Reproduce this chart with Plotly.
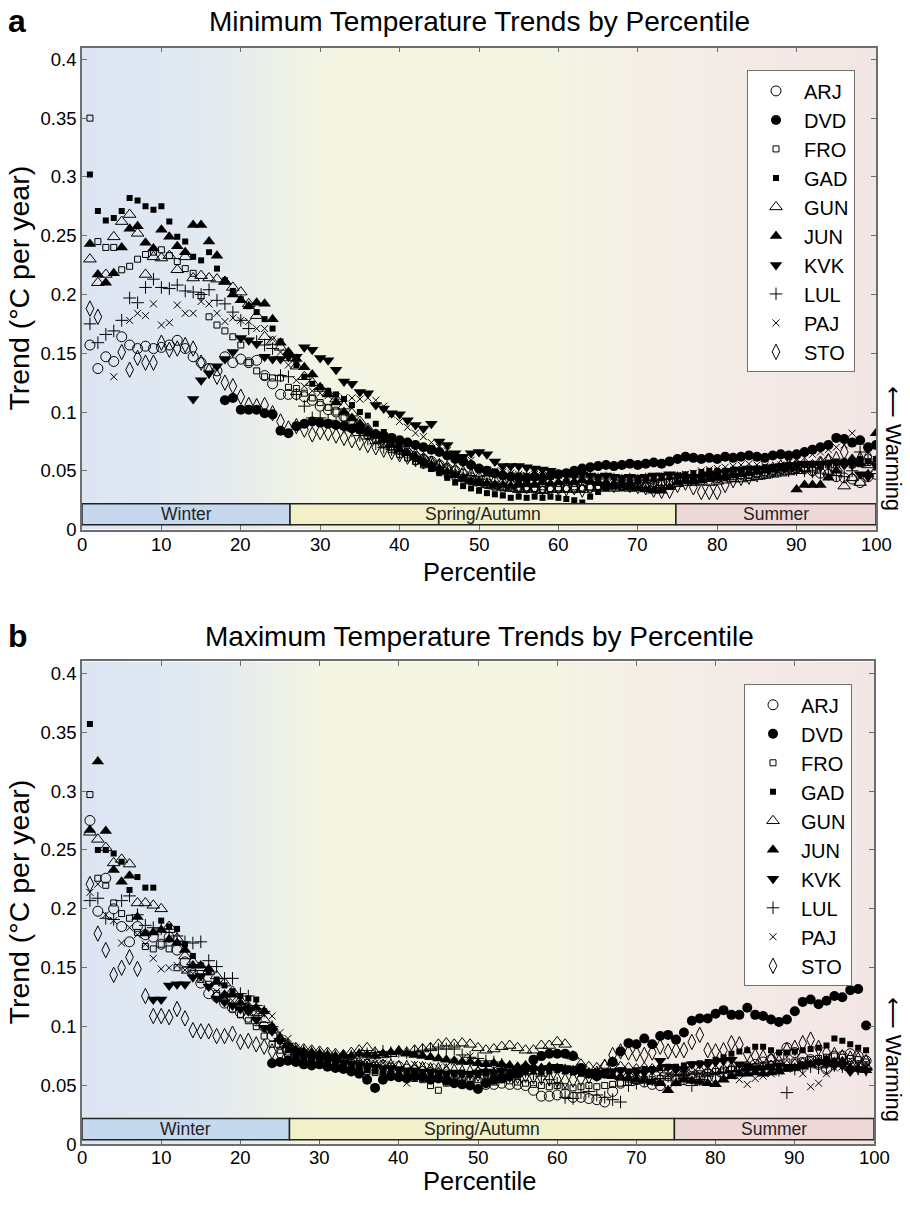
import plotly.graph_objects as go

N = None
pct = list(range(1, 101))
stations = ["ARJ", "DVD", "FRO", "GAD", "GUN", "JUN", "KVK", "LUL", "PAJ", "STO"]

# --- minimum temperature trends (panel a), one value per percentile 1..100
tmin_arj = [
    0.157, 0.137, 0.147, 0.143, 0.164, 0.157, 0.154, 0.156, 0.154, 0.155,
    0.157, 0.161, 0.154, 0.147, 0.142, 0.137, 0.135, 0.147, 0.142, 0.145,
    0.142, 0.144, 0.131, 0.124, 0.115, 0.115, 0.115, 0.113, 0.110, 0.105,
    0.102, 0.100, 0.096, 0.090, 0.086, 0.081, 0.078, 0.075, 0.071, 0.068,
    0.065, 0.062, 0.060, 0.058, 0.055, 0.052, 0.050, 0.047, 0.044, 0.040,
    0.039, 0.037, 0.036, 0.038, 0.035, 0.037, 0.036, 0.038, 0.036, 0.037,
    0.036, 0.038, 0.037, 0.036, 0.038, 0.037, 0.039, 0.038, 0.037, 0.038,
    0.039, 0.038, 0.040, 0.041, 0.042, 0.043, 0.042, 0.044, 0.045, 0.044,
    0.046, 0.045, 0.047, 0.048, 0.049, 0.050, 0.051, 0.052, 0.053, 0.054,
    0.052, 0.050, 0.048, 0.047, 0.045, 0.044, 0.043, 0.040, 0.045, 0.047]
tmin_dvd = [
    N, N, N, N, N, N, N, N, N, N,
    N, N, N, N, N, N, N, 0.110, 0.112, 0.102,
    0.102, 0.102, 0.099, 0.098, 0.084, 0.082, 0.088, 0.090, 0.092, 0.091,
    0.090, 0.089, 0.088, 0.086, 0.085, 0.083, 0.081, 0.080, 0.078, 0.076,
    0.074, 0.072, 0.070, 0.068, 0.066, 0.063, 0.060, 0.058, 0.055, 0.052,
    0.050, 0.048, 0.046, 0.045, 0.044, 0.044, 0.045, 0.044, 0.046, 0.047,
    0.048, 0.050, 0.052, 0.053, 0.054, 0.055, 0.054, 0.055, 0.056, 0.055,
    0.056, 0.057, 0.056, 0.058, 0.060, 0.062, 0.061, 0.060, 0.061, 0.060,
    0.062, 0.061, 0.062, 0.063, 0.062, 0.061, 0.063, 0.064, 0.063, 0.064,
    0.066, 0.068, 0.070, 0.072, 0.078, 0.077, 0.074, 0.076, 0.070, 0.072]
tmin_fro = [
    0.350, 0.245, 0.240, 0.240, 0.221, 0.224, 0.230, 0.234, 0.236, 0.238,
    0.233, 0.228, 0.222, 0.218, 0.199, 0.181, 0.174, 0.169, 0.164, 0.157,
    0.142, 0.135, 0.130, 0.129, 0.129, 0.121, 0.120, 0.116, 0.112, 0.108,
    0.104, 0.100, 0.095, 0.090, 0.085, 0.080, 0.076, 0.072, 0.068, 0.064,
    0.061, 0.058, 0.055, 0.052, 0.050, 0.047, 0.045, 0.043, 0.041, 0.040,
    0.038, 0.037, 0.036, 0.035, 0.035, 0.034, 0.035, 0.034, 0.035, 0.034,
    0.035, 0.034, 0.035, 0.036, 0.035, 0.036, 0.037, 0.036, 0.037, 0.038,
    0.038, 0.039, 0.040, 0.040, 0.041, 0.042, 0.042, 0.043, 0.044, 0.044,
    0.045, 0.045, 0.046, 0.046, 0.047, 0.046, 0.048, 0.049, 0.050, 0.051,
    0.052, 0.053, 0.054, 0.055, 0.055, 0.056, 0.055, 0.056, 0.057, 0.056]
tmin_gad = [
    0.302, 0.271, 0.263, 0.265, 0.271, 0.282, 0.280, 0.275, 0.272, 0.275,
    0.262, 0.249, 0.245, 0.232, 0.229, 0.236, 0.222, 0.212, 0.203, 0.196,
    0.190, 0.185, 0.179, 0.171, 0.160, 0.150, 0.140, 0.130, 0.124, 0.121,
    0.118, 0.115, 0.111, 0.106, 0.100, 0.097, 0.090, 0.083, 0.077, 0.071,
    0.065, 0.060, 0.056, 0.052, 0.048, 0.044, 0.040, 0.037, 0.035, 0.033,
    0.031, 0.030, 0.029, 0.027, 0.028, 0.027, 0.028, 0.027, 0.028, 0.027,
    0.026, 0.025, 0.023, 0.028, 0.032, 0.035, 0.037, 0.039, 0.040, 0.041,
    0.042, 0.043, 0.044, 0.045, 0.046, 0.047, 0.048, 0.049, 0.050, 0.050,
    0.050, 0.051, 0.051, 0.052, 0.052, 0.053, 0.053, 0.054, 0.054, 0.055,
    0.055, 0.056, 0.056, 0.057, 0.058, 0.058, 0.059, 0.060, 0.058, 0.060]
tmin_gun = [
    0.230, 0.210, 0.217, 0.249, 0.262, 0.268, 0.252, 0.217, 0.232, 0.231,
    0.233, 0.221, 0.232, 0.214, 0.216, 0.214, 0.213, 0.211, 0.206, 0.202,
    0.192, 0.182, 0.164, 0.160, 0.155, 0.146, 0.139, 0.130, 0.125, 0.120,
    0.116, 0.111, 0.105, 0.099, 0.092, 0.086, 0.081, 0.077, 0.073, 0.070,
    0.067, 0.064, 0.061, 0.058, 0.055, 0.051, 0.047, 0.044, 0.042, 0.040,
    0.038, 0.037, 0.036, 0.035, 0.034, 0.035, 0.034, 0.033, 0.034, 0.035,
    0.034, 0.035, 0.034, 0.036, 0.035, 0.036, 0.035, 0.036, 0.035, 0.036,
    0.036, 0.037, 0.038, 0.038, 0.039, 0.040, 0.040, 0.041, 0.040, 0.041,
    0.042, 0.043, 0.043, 0.044, 0.045, 0.046, 0.047, 0.048, 0.049, 0.050,
    0.052, 0.055, 0.058, 0.060, 0.052, 0.037, 0.044, 0.040, 0.055, 0.050]
tmin_jun = [
    0.243, 0.217, 0.210, 0.218, 0.240, 0.256, 0.258, 0.244, 0.239, 0.255,
    0.249, 0.241, 0.236, 0.259, 0.259, 0.245, 0.233, 0.211, 0.200, 0.195,
    0.190, 0.193, 0.192, 0.179, 0.159, 0.151, 0.145, 0.138, 0.132, 0.121,
    0.115, 0.108, 0.100, 0.095, 0.090, 0.085, 0.080, 0.076, 0.072, 0.068,
    0.065, 0.062, 0.058, 0.055, 0.052, 0.049, 0.046, 0.043, 0.041, 0.040,
    0.039, 0.038, 0.038, 0.037, 0.038, 0.039, 0.038, 0.040, 0.039, 0.040,
    0.041, 0.040, 0.042, 0.041, 0.040, 0.039, 0.038, 0.037, 0.036, 0.035,
    0.034, 0.033, 0.033, 0.036, 0.040, 0.042, 0.041, 0.042, 0.043, 0.044,
    0.045, 0.046, 0.047, 0.048, 0.049, 0.050, 0.051, 0.052, 0.053, 0.034,
    0.038, 0.038, 0.038, 0.044, 0.050, 0.057, 0.060, 0.056, 0.047, 0.082]
tmin_kvk = [
    N, N, N, N, N, N, N, N, N, N,
    N, N, N, 0.111, 0.127, 0.133, 0.139, 0.145, 0.151, 0.163,
    0.161, 0.158, 0.147, 0.145, 0.145, 0.147, 0.147, 0.155, 0.153, 0.146,
    0.144, 0.136, 0.126, 0.124, 0.117, 0.116, 0.106, 0.103, 0.099, 0.098,
    0.093, 0.089, 0.086, 0.090, 0.075, 0.072, 0.065, 0.062, 0.065, 0.066,
    0.064, 0.058, 0.054, 0.054, 0.054, 0.053, 0.052, 0.051, 0.050, 0.048,
    0.047, 0.046, 0.047, 0.046, 0.045, 0.046, 0.045, 0.044, 0.045, 0.044,
    0.045, 0.046, 0.046, 0.047, 0.046, 0.045, 0.044, 0.045, 0.047, 0.048,
    0.049, 0.050, 0.051, 0.052, 0.051, 0.052, 0.053, 0.054, 0.055, 0.055,
    0.056, 0.056, 0.055, 0.056, 0.057, 0.055, 0.056, 0.047, 0.045, 0.055]
tmin_lul = [
    0.175, 0.159, 0.166, 0.169, 0.178, 0.197, 0.193, 0.206, 0.213, 0.206,
    0.205, 0.208, 0.203, 0.202, 0.200, 0.204, 0.195, 0.192, 0.185, 0.178,
    0.171, 0.160, 0.157, 0.154, 0.131, 0.130, 0.115, 0.105, 0.095, 0.095,
    0.093, 0.090, 0.087, 0.084, 0.080, 0.077, 0.073, 0.070, 0.068, 0.065,
    0.063, 0.060, 0.058, 0.055, 0.053, 0.050, 0.049, 0.047, 0.046, 0.045,
    0.046, 0.045, 0.047, 0.046, 0.048, 0.046, 0.045, 0.046, 0.045, 0.046,
    0.045, 0.044, 0.045, 0.044, 0.043, 0.044, 0.043, 0.042, 0.043, 0.042,
    0.043, 0.042, 0.043, 0.043, 0.044, 0.044, 0.045, 0.045, 0.046, 0.045,
    0.046, 0.047, 0.047, 0.048, 0.048, 0.049, 0.049, 0.050, 0.050, 0.051,
    0.050, 0.049, 0.048, 0.047, 0.046, 0.045, 0.050, 0.066, 0.060, 0.058]
tmin_paj = [
    N, N, N, 0.130, N, 0.178, 0.184, 0.182, 0.192, 0.174,
    0.176, 0.191, 0.184, 0.184, 0.194, 0.192, 0.184, 0.177, 0.180, 0.178,
    0.177, 0.171, 0.171, 0.162, 0.151, 0.140, 0.127, 0.122, 0.118, 0.116,
    0.114, 0.113, 0.112, 0.112, 0.111, 0.112, 0.110, 0.105, 0.098, 0.092,
    0.087, 0.082, 0.079, 0.074, 0.070, 0.067, 0.064, 0.061, 0.059, 0.051,
    0.051, 0.050, 0.049, 0.048, 0.047, 0.046, 0.047, 0.046, 0.045, 0.046,
    0.045, 0.044, 0.045, 0.044, 0.045, 0.043, 0.042, 0.041, 0.042, 0.041,
    0.042, 0.043, 0.044, 0.045, 0.046, 0.047, 0.048, 0.050, 0.051, 0.052,
    0.053, 0.054, 0.055, 0.056, 0.055, 0.054, 0.053, 0.055, 0.057, 0.059,
    0.061, 0.064, 0.066, 0.068, 0.070, 0.072, 0.082, 0.075, 0.065, 0.053]
tmin_sto = [
    0.188, 0.181, N, N, 0.151, 0.136, 0.146, 0.142, 0.142, 0.159,
    0.153, 0.154, 0.157, 0.154, 0.142, 0.135, 0.130, 0.125, 0.122, 0.113,
    0.106, 0.105, 0.106, 0.099, 0.092, 0.086, 0.088, 0.085, 0.081, 0.083,
    0.082, 0.080, 0.078, 0.076, 0.074, 0.072, 0.070, 0.068, 0.066, 0.064,
    0.062, 0.060, 0.058, 0.056, 0.054, 0.052, 0.050, 0.048, 0.046, 0.044,
    0.042, 0.041, 0.040, 0.039, 0.038, 0.037, 0.036, 0.036, 0.035, 0.036,
    0.035, 0.036, 0.034, 0.036, 0.038, 0.039, 0.038, 0.039, 0.038, 0.037,
    0.036, 0.034, 0.033, 0.033, 0.038, 0.040, 0.036, 0.032, 0.032, 0.032,
    0.038, 0.042, 0.044, 0.045, 0.047, 0.049, 0.051, 0.053, 0.054, 0.055,
    0.053, 0.051, 0.055, 0.058, 0.060, 0.066, 0.057, 0.060, 0.062, N]

# --- maximum temperature trends (panel b)
tmax_arj = [
    0.275, 0.198, 0.226, 0.200, 0.185, 0.172, 0.185, 0.178, 0.176, 0.170,
    0.176, 0.165, 0.155, 0.145, 0.137, 0.128, 0.125, 0.120, 0.116, 0.112,
    0.108, 0.105, 0.100, 0.092, 0.085, 0.080, 0.076, 0.074, 0.072, 0.071,
    0.070, 0.069, 0.070, 0.068, 0.067, 0.068, 0.066, 0.067, 0.065, 0.066,
    0.064, 0.063, 0.062, 0.061, 0.060, 0.059, 0.058, 0.057, 0.055, 0.053,
    0.051, 0.051, 0.052, 0.051, 0.051, 0.050, 0.046, 0.041, 0.041, 0.042,
    0.043, 0.040, 0.040, 0.039, 0.038, 0.036, 0.045, 0.052, 0.057, 0.055,
    0.053, 0.051, 0.050, 0.052, 0.054, 0.055, 0.056, 0.056, 0.057, 0.057,
    0.060, 0.062, 0.064, 0.066, 0.068, 0.070, 0.072, 0.075, 0.082, 0.078,
    0.074, 0.072, 0.068, 0.064, 0.075, 0.075, 0.077, 0.075, 0.071, N]
tmax_dvd = [
    N, N, N, N, N, N, N, N, N, N,
    N, N, N, N, N, N, N, N, N, N,
    N, N, N, 0.069, 0.070, 0.071, 0.070, 0.068, 0.067, 0.068,
    0.066, 0.065, 0.064, 0.062, 0.060, 0.055, 0.048, 0.055, 0.058, 0.057,
    0.056, 0.058, 0.057, 0.055, 0.056, 0.054, 0.052, 0.051, 0.050, 0.047,
    0.052, 0.055, 0.056, 0.058, 0.060, 0.065, 0.072, 0.075, 0.077, 0.077,
    0.077, 0.075, 0.065, 0.060, 0.058, 0.060, 0.070, 0.079, 0.086, 0.085,
    0.090, 0.085, 0.092, 0.093, 0.089, 0.095, 0.105, 0.107, 0.107, 0.111,
    0.114, 0.110, 0.110, 0.116, 0.110, 0.109, 0.106, 0.104, 0.106, 0.113,
    0.121, 0.123, 0.119, 0.122, 0.126, 0.125, 0.131, 0.132, 0.101, N]
tmax_fro = [
    0.297, 0.226, 0.220, 0.205, 0.196, 0.192, 0.180, 0.168, 0.166, 0.170,
    0.166, 0.150, 0.148, 0.145, 0.140, 0.136, 0.128, 0.122, 0.115, 0.110,
    0.105, 0.100, 0.092, 0.085, 0.080, 0.077, 0.074, 0.072, 0.070, 0.069,
    0.068, 0.066, 0.065, 0.064, 0.063, 0.062, 0.061, 0.060, 0.059, 0.058,
    0.057, 0.056, 0.055, 0.050, 0.046, 0.052, 0.054, 0.055, 0.056, 0.055,
    0.054, 0.053, 0.055, 0.054, 0.053, 0.052, 0.051, 0.050, 0.049, 0.050,
    0.049, 0.048, 0.049, 0.050, 0.049, 0.050, 0.051, 0.052, 0.053, 0.054,
    0.055, 0.055, 0.056, 0.057, 0.056, 0.058, 0.059, 0.060, 0.061, 0.062,
    0.063, 0.064, 0.065, 0.066, 0.066, 0.067, 0.068, 0.069, 0.070, 0.070,
    0.071, 0.072, 0.073, 0.074, 0.075, 0.074, 0.073, 0.072, 0.070, N]
tmax_gad = [
    0.357, 0.250, 0.250, 0.247, 0.240, 0.216, 0.227, 0.218, 0.218, 0.190,
    0.185, 0.183, 0.170, 0.160, 0.152, 0.146, 0.140, 0.135, 0.130, 0.126,
    0.124, 0.123, 0.113, 0.100, 0.088, 0.080, 0.076, 0.073, 0.071, 0.070,
    0.068, 0.067, 0.066, 0.065, 0.064, 0.063, 0.062, 0.061, 0.062, 0.061,
    0.060, 0.061, 0.060, 0.059, 0.060, 0.059, 0.060, 0.061, 0.060, 0.059,
    0.060, 0.061, 0.062, 0.061, 0.060, 0.061, 0.062, 0.061, 0.062, 0.063,
    0.062, 0.061, 0.060, 0.061, 0.062, 0.061, 0.062, 0.063, 0.062, 0.063,
    0.064, 0.064, 0.065, 0.066, 0.066, 0.067, 0.068, 0.069, 0.070, 0.072,
    0.074, 0.077, 0.079, 0.080, 0.083, 0.083, 0.080, 0.078, 0.078, 0.079,
    0.080, 0.081, 0.082, 0.084, 0.090, 0.088, 0.085, 0.082, 0.080, N]
tmax_gun = [
    0.265, 0.259, 0.252, 0.239, 0.242, 0.238, 0.205, 0.205, 0.203, 0.200,
    0.185, 0.175, 0.160, 0.155, 0.150, 0.147, 0.143, 0.137, 0.130, 0.122,
    0.117, 0.112, 0.106, 0.097, 0.090, 0.085, 0.082, 0.081, 0.080, 0.079,
    0.078, 0.077, 0.076, 0.078, 0.080, 0.082, 0.078, 0.076, 0.077, 0.079,
    0.078, 0.080, 0.081, 0.082, 0.085, 0.086, 0.085, 0.086, 0.085, 0.082,
    0.080, 0.081, 0.083, 0.084, 0.082, 0.080, 0.080, 0.084, 0.084, 0.087,
    0.085, 0.075, 0.068, 0.066, 0.065, 0.067, 0.070, 0.066, 0.065, 0.064,
    0.065, 0.064, 0.065, 0.063, 0.062, 0.061, 0.062, 0.063, 0.062, 0.063,
    0.064, 0.065, 0.064, 0.066, 0.065, 0.066, 0.067, 0.066, 0.067, 0.068,
    0.069, 0.070, 0.071, 0.070, 0.069, 0.070, 0.068, 0.067, 0.066, N]
tmax_jun = [
    0.267, 0.325, 0.266, 0.233, 0.223, 0.228, 0.193, 0.179, 0.180, 0.182,
    0.174, 0.171, 0.165, 0.152, 0.152, 0.149, 0.138, 0.127, 0.127, 0.120,
    0.116, 0.116, 0.113, 0.100, 0.090, 0.084, 0.080, 0.079, 0.078, 0.077,
    0.076, 0.075, 0.076, 0.075, 0.077, 0.076, 0.075, 0.077, 0.078, 0.079,
    0.077, 0.076, 0.075, 0.074, 0.073, 0.072, 0.071, 0.070, 0.070, 0.069,
    0.068, 0.069, 0.068, 0.067, 0.066, 0.067, 0.066, 0.065, 0.066, 0.065,
    0.064, 0.063, 0.062, 0.061, 0.060, 0.059, 0.058, 0.057, 0.056, 0.055,
    0.054, 0.053, 0.052, 0.046, 0.052, 0.055, 0.054, 0.053, 0.052, 0.051,
    0.055, 0.058, 0.060, 0.060, 0.061, 0.060, 0.061, 0.062, 0.064, 0.065,
    0.066, 0.068, 0.070, 0.072, 0.070, 0.070, 0.065, 0.064, 0.063, N]
tmax_kvk = [
    N, N, N, N, N, N, N, N, 0.123, 0.123,
    0.135, 0.136, 0.136, 0.142, 0.143, 0.134, 0.124, 0.121, 0.118, 0.115,
    0.113, 0.106, 0.099, 0.096, 0.088, 0.084, 0.080, 0.077, 0.075, 0.073,
    0.072, 0.071, 0.070, 0.069, 0.068, 0.067, 0.066, 0.065, 0.065, 0.064,
    0.063, 0.063, 0.062, 0.062, 0.061, 0.060, 0.061, 0.060, 0.060, 0.061,
    0.062, 0.061, 0.063, 0.062, 0.062, 0.063, 0.064, 0.063, 0.065, 0.066,
    0.065, 0.064, 0.062, 0.061, 0.060, 0.061, 0.062, 0.063, 0.062, 0.061,
    0.061, 0.063, 0.071, 0.066, 0.064, 0.064, 0.068, 0.068, 0.068, 0.070,
    0.071, 0.072, 0.068, 0.066, 0.065, 0.065, 0.066, 0.067, 0.066, 0.066,
    0.068, 0.069, 0.070, 0.068, 0.067, 0.067, 0.062, 0.064, 0.063, N]
tmax_lul = [
    0.207, 0.209, 0.192, 0.191, 0.207, 0.211, 0.195, 0.186, 0.184, 0.183,
    0.180, 0.177, 0.172, 0.171, 0.172, 0.156, 0.151, 0.141, 0.141, 0.128,
    0.126, 0.118, 0.113, 0.100, 0.090, 0.084, 0.081, 0.079, 0.078, 0.077,
    0.076, 0.075, 0.074, 0.075, 0.076, 0.077, 0.078, 0.079, 0.078, 0.079,
    0.078, 0.079, 0.080, 0.081, 0.081, 0.081, 0.081, 0.076, 0.074, 0.073,
    0.071, 0.070, 0.068, 0.066, 0.064, 0.062, 0.060, 0.058, 0.055, 0.052,
    0.040, 0.039, 0.044, 0.045, 0.042, 0.040, 0.038, 0.036, 0.050, 0.052,
    0.054, 0.055, 0.056, 0.058, 0.059, 0.056, 0.050, 0.055, 0.058, 0.060,
    0.061, 0.062, 0.063, 0.064, 0.065, 0.065, 0.064, 0.063, 0.044, 0.064,
    0.065, 0.066, 0.065, 0.066, 0.067, 0.066, 0.065, 0.064, 0.063, N]
tmax_paj = [
    0.214, 0.221, 0.195, 0.190, 0.171, 0.184, 0.178, 0.170, 0.158, 0.149,
    0.150, 0.152, 0.148, 0.145, 0.140, 0.135, 0.130, 0.126, 0.122, 0.118,
    0.115, 0.112, 0.110, 0.109, 0.095, 0.090, 0.082, 0.078, 0.076, 0.075,
    0.074, 0.073, 0.072, 0.071, 0.070, 0.070, 0.069, 0.069, 0.068, 0.060,
    0.052, 0.068, 0.067, 0.066, 0.065, 0.066, 0.070, 0.073, 0.075, 0.066,
    0.065, 0.064, 0.062, 0.061, 0.060, 0.061, 0.062, 0.063, 0.064, 0.065,
    0.063, 0.062, 0.060, 0.059, 0.058, 0.059, 0.060, 0.061, 0.060, 0.060,
    0.060, 0.061, 0.060, 0.059, 0.060, 0.060, 0.061, 0.060, 0.059, 0.060,
    0.059, 0.058, 0.055, 0.051, 0.056, 0.058, 0.060, 0.062, 0.064, 0.065,
    0.060, 0.049, 0.052, 0.060, 0.065, 0.066, 0.067, 0.068, 0.069, N]
tmax_sto = [
    0.221, 0.179, 0.165, 0.144, 0.150, 0.159, 0.149, 0.126, 0.109, 0.109,
    0.108, 0.115, 0.107, 0.097, 0.096, 0.096, 0.092, 0.092, 0.094, 0.087,
    0.088, 0.085, 0.083, 0.079, 0.077, 0.076, 0.076, 0.075, 0.074, 0.073,
    0.072, 0.071, 0.070, 0.070, 0.069, 0.068, 0.067, 0.066, 0.066, 0.065,
    0.065, 0.064, 0.064, 0.063, 0.063, 0.062, 0.062, 0.061, 0.061, 0.060,
    0.060, 0.059, 0.060, 0.059, 0.058, 0.059, 0.058, 0.057, 0.056, 0.055,
    0.054, 0.055, 0.056, 0.058, 0.060, 0.066, 0.076, 0.079, 0.078, 0.077,
    0.076, 0.078, 0.083, 0.079, 0.080, 0.080, 0.087, 0.093, 0.080, 0.079,
    0.080, 0.086, 0.085, 0.077, 0.075, 0.074, 0.072, 0.070, 0.080, 0.082,
    0.086, 0.089, 0.082, 0.078, 0.076, 0.074, 0.073, 0.072, 0.070, N]

ytick_vals = [0, 0.05, 0.1, 0.15, 0.2, 0.25, 0.3, 0.35, 0.4]
ytick_text = ["0", "0.05", "0.1", "0.15", "0.2", "0.25", "0.3", "0.35", "0.4"]
xtick_vals = [0, 10, 20, 30, 40, 50, 60, 70, 80, 90, 100]
season_names = ["Winter", "Spring/Autumn", "Summer"]
season_edges = [0, 26.2, 74.8, 100]

tmin = dict(zip(stations, [tmin_arj, tmin_dvd, tmin_fro, tmin_gad, tmin_gun,
                           tmin_jun, tmin_kvk, tmin_lul, tmin_paj, tmin_sto]))
tmax = dict(zip(stations, [tmax_arj, tmax_dvd, tmax_fro, tmax_gad, tmax_gun,
                           tmax_jun, tmax_kvk, tmax_lul, tmax_paj, tmax_sto]))

# marker look per station (symbol, size, filled)
styles = {
    "ARJ": ("circle-open", 10, False),
    "DVD": ("circle", 10, True),
    "FRO": ("square-open", 6, False),
    "GAD": ("square", 6, True),
    "GUN": ("triangle-up-open", 11, False),
    "JUN": ("triangle-up", 11, True),
    "KVK": ("triangle-down", 11, True),
    "LUL": ("cross-thin-open", 9, False),
    "PAJ": ("x-thin-open", 7, False),
    "STO": ("diamond-tall-open", 11, False),
}
season_colors = ["#c6d8ee", "#f1f0c9", "#eed7d7"]
bg_scale = [[0, "#dce5f2"], [0.12, "#e0e8f2"], [0.22, "#e8edec"],
            [0.3, "#f3f5e2"], [0.6, "#f4f4e3"], [0.72, "#f4eee6"],
            [0.85, "#f3e9e6"], [1, "#f2e6e4"]]
FONT = "Liberation Sans, Arial, DejaVu Sans, sans-serif"

W, H = 910, 1208


def px(x):
    return x / W


def py(y):
    return 1 - y / H


fig = go.Figure()

panels = [
    ("x", "y", "legend", tmin, [py(534), py(48)], [px(82), px(876)]),
    ("x2", "y2", "legend2", tmax, [py(1154), py(667)], [px(82), px(874)]),
]
grad_edges = list(range(0, 101))
grad_vals = [[i + 0.5 for i in range(100)]]

for xa, ya, lg, data, ydom, xdom in panels:
    fig.add_trace(go.Heatmap(z=grad_vals, x=grad_edges, y=[0, 0.41],
                             colorscale=bg_scale, zmin=0, zmax=100,
                             showscale=False, hoverinfo="skip",
                             xaxis=xa, yaxis=ya))
    for st in stations:
        sym, size, filled = styles[st]
        marker = dict(symbol=sym, size=size, color="black",
                      line=dict(color="black", width=0 if filled else 1))
        fig.add_trace(go.Scatter(x=pct, y=data[st], mode="markers", name=st,
                                 marker=marker, xaxis=xa, yaxis=ya, legend=lg))

axis_common = dict(showline=True, linecolor="#6e6e6e", linewidth=1.5,
                   mirror="ticks", ticks="inside", ticklen=5, tickcolor="#6e6e6e",
                   showgrid=False, zeroline=False,
                   tickfont=dict(family=FONT, size=18.5, color="black"))

fig.update_layout(
    xaxis=dict(domain=panels[0][5], range=[0, 100], tickvals=xtick_vals,
               showticklabels=False, anchor="y", **axis_common),
    yaxis=dict(domain=panels[0][4], range=[0, 0.41], tickvals=ytick_vals,
               ticktext=ytick_text, anchor="x", **axis_common),
    xaxis2=dict(domain=panels[1][5], range=[0, 100], tickvals=xtick_vals,
                showticklabels=False, anchor="y2", **axis_common),
    yaxis2=dict(domain=panels[1][4], range=[0, 0.41], tickvals=ytick_vals,
                ticktext=ytick_text, anchor="x2", **axis_common),
)

legend_common = dict(xanchor="right", yanchor="top", bgcolor="white",
                     bordercolor="#707070", borderwidth=1, tracegroupgap=0,
                     itemwidth=46,
                     font=dict(family=FONT, size=20, color="black"))
fig.update_layout(legend=dict(x=px(855), y=py(71), **legend_common),
                  legend2=dict(x=px(852), y=py(690), **legend_common))

shapes = []
annotations = []
titles = ["Minimum Temperature Trends by Percentile",
          "Maximum Temperature Trends by Percentile"]
title_rows = [22, 642]
ytitle_rows = [291, 910]
xtick_rows = [549, 1167]
xtitle_rows = [577, 1191]
warm_rows = [452, 1068]
for k, (xa, ya, _, _, ydom, xdom) in enumerate(panels):
    for i, name in enumerate(season_names):
        shapes.append(dict(type="rect", xref=xa, yref=ya,
                           x0=season_edges[i], x1=season_edges[i + 1],
                           y0=0.004, y1=0.022, fillcolor=season_colors[i],
                           line=dict(color="#222", width=1.5), layer="above"))
        annotations.append(dict(x=(season_edges[i] + season_edges[i + 1]) / 2,
                                y=0.013, xref=xa, yref=ya, text=name,
                                showarrow=False, yanchor="middle",
                                font=dict(family=FONT, size=17.5, color="#222")))
    # percentile tick labels under each panel
    for v in xtick_vals:
        annotations.append(dict(x=v, y=py(xtick_rows[k]), xref=xa, yref="paper",
                                text=str(v), showarrow=False, borderpad=0,
                                xanchor="center", yanchor="middle",
                                font=dict(family=FONT, size=18.5, color="black")))
    annotations += [
        dict(x=px(479), y=py(title_rows[k]), xref="paper", yref="paper",
             text=titles[k], showarrow=False, xanchor="center", yanchor="middle",
             font=dict(family=FONT, size=28, color="black")),
        dict(x=px(6), y=py(title_rows[k] - 1), xref="paper", yref="paper",
             text="<b>" + "ab"[k] + "</b>", showarrow=False, xanchor="left",
             yanchor="middle", font=dict(family=FONT, size=32, color="black")),
        dict(x=px(19), y=py(ytitle_rows[k]), xref="paper", yref="paper",
             text="Trend (°C per year)", textangle=-90, showarrow=False,
             xanchor="center", yanchor="middle",
             font=dict(family=FONT, size=28.5, color="black")),
        dict(x=px(479), y=py(xtitle_rows[k]), xref="paper", yref="paper",
             text="Percentile", showarrow=False, xanchor="center", borderpad=0,
             yanchor="middle", font=dict(family=FONT, size=25.5, color="black")),
        dict(x=px(894), y=py(warm_rows[k]), xref="paper", yref="paper",
             text="⟵ Warming", textangle=90, showarrow=False, borderpad=0,
             xanchor="center", yanchor="middle",
             font=dict(family=FONT, size=22, color="black")),
    ]

fig.update_layout(
    width=W, height=H,
    margin=dict(l=0, r=0, t=0, b=0),
    paper_bgcolor="white", plot_bgcolor="white",
    showlegend=True,
    shapes=shapes, annotations=annotations,
    font=dict(family=FONT, color="black"),
)

page_fix = ("document.documentElement.style.overflow='hidden';"
            "document.body.style.overflow='hidden';"
            "document.body.style.margin='0px';")
fig.write_html("out.html", config={"displayModeBar": False},
               post_script=page_fix)
